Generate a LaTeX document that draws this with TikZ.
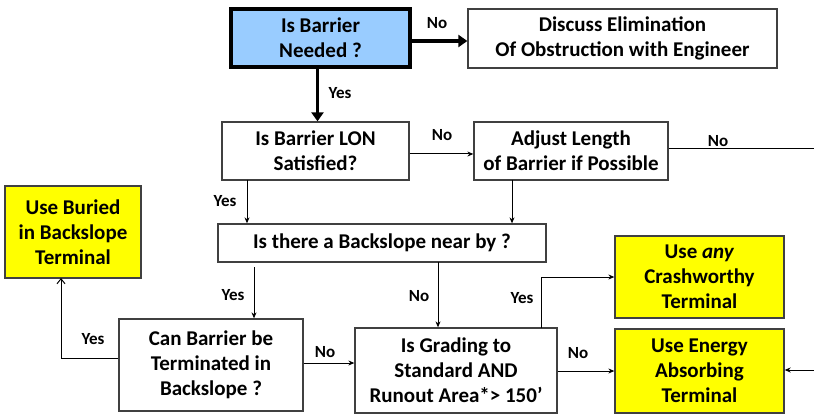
\documentclass[tikz,border=0pt]{standalone}
\usepackage{fontspec}
\setmainfont{Carlito}
\usetikzlibrary{arrows.meta,calc}
\definecolor{boxblue}{HTML}{99CCFF}
\definecolor{boxyellow}{HTML}{FFFF00}
\definecolor{edge}{HTML}{404040}
\begin{document}
\begin{tikzpicture}[x=1pt,y=-1pt,
  box/.style={draw=edge,line width=1.3pt,fill=white,align=center,inner sep=0pt,
     font=\fontsize{21}{25}\selectfont\bfseries},
  ybox/.style={box,fill=boxyellow},
  lab/.style={font=\fontsize{17}{19}\selectfont\bfseries,inner sep=0pt},
  conn/.style={draw=black,line width=1pt,-{Stealth[length=6pt,width=5pt]}},
  openconn/.style={draw=black,line width=1pt,-{Straight Barb[length=5pt,width=8pt]}},
  plain/.style={draw=black,line width=1pt},
  thickconn/.style={draw=black,line width=3.5pt,-{Triangle[length=9pt,width=12pt]}}]
\path[use as bounding box,fill=white] (0,0) rectangle (814,414);

\node[box,draw=black,fill=boxblue,line width=4.5pt,minimum width=179pt,minimum height=58pt] (need) at (320.5,38) {Is Barrier\\Needed ?};
\node[box,minimum width=309pt,minimum height=59pt] (discuss) at (622.5,38.5) {Discuss Elimination\\Of Obstruction with Engineer};
\node[box,minimum width=187pt,minimum height=58pt] (lon) at (315.5,151) {Is Barrier LON\\Satisfied?};
\node[box,minimum width=194pt,minimum height=58pt] (adjust) at (571,151) {Adjust Length\\of Barrier if Possible};
\node[box,minimum width=328pt,minimum height=38pt] (near) at (382,243) {Is there a Backslope near by ?};
\node[ybox,minimum width=136pt,minimum height=92pt] (buried) at (73,232) {Use Buried\\in Backslope\\Terminal};
\node[box,minimum width=184pt,minimum height=92pt] (can) at (211,365) {Can Barrier be\\Terminated in\\Backslope ?};
\node[box,minimum width=202pt,minimum height=85pt] (grading) at (456,370.5) {Is Grading to\\Standard AND\\Runout Area*> 150’};
\node[ybox,minimum width=169pt,minimum height=82pt] (any) at (699.5,277) {Use \textit{any}\\Crashworthy\\Terminal};
\node[ybox,minimum width=169pt,minimum height=84pt] (energy) at (699.5,371) {Use Energy\\Absorbing\\Terminal};

\coordinate (redge1) at (814,153);
\coordinate (redge2) at (814,370);
\coordinate (lonout) at (247,180);
\coordinate (adjout) at (512,180);
\coordinate (nearyes) at (254,267);
\coordinate (nearno) at (438,262);
\coordinate (gradyes) at (541,328);
\coordinate (buriedin) at (61,278);

% connectors
\draw[thickconn] ([xshift=-3pt]need.south) -- ([xshift=-3pt]need.south |- lon.north);
\draw[thickconn] ([yshift=-3pt]need.east) -- ([yshift=-3pt]need.east -| discuss.west);
\draw[conn] ([yshift=-3pt]lon.east) -- ([yshift=-3pt]lon.east -| adjust.west);
\draw[plain] ([yshift=2pt]adjust.east) -- ([yshift=2pt]adjust.east -| redge1);
\draw[conn] (lonout) -- (lonout |- near.north);
\draw[conn] (adjout) -- (adjout |- near.north);
\draw[conn] (nearyes) -- (nearyes |- can.north);
\draw[conn] (nearno) -- (nearno |- grading.north);
\draw[openconn] ([yshift=7pt]can.west) -| (buriedin);
\draw[conn] ([yshift=2pt]can.east) -- ([yshift=2pt]can.east -| grading.west);
\draw[conn] (gradyes) |- (any.west);
\draw[conn] ([yshift=-0.5pt]grading.east) -- ([yshift=-0.5pt]grading.east -| energy.west);
\draw[conn] (redge2) -- (redge2 -| energy.east);

% labels
\node[lab] (l1) at (437,23) {No};
\node[lab] (l2) at (340,93) {Yes};
\node[lab] (l3) at (442,135) {No};
\node[lab] (l4) at (718,141) {No};
\node[lab] (l5) at (225,201) {Yes};
\node[lab] (l6) at (233,295) {Yes};
\node[lab] (l7) at (419,296) {No};
\node[lab] (l8) at (522,298) {Yes};
\node[lab] (l9) at (93,339) {Yes};
\node[lab] (l10) at (325,352) {No};
\node[lab] (l11) at (578,353) {No};
\end{tikzpicture}
\end{document}
